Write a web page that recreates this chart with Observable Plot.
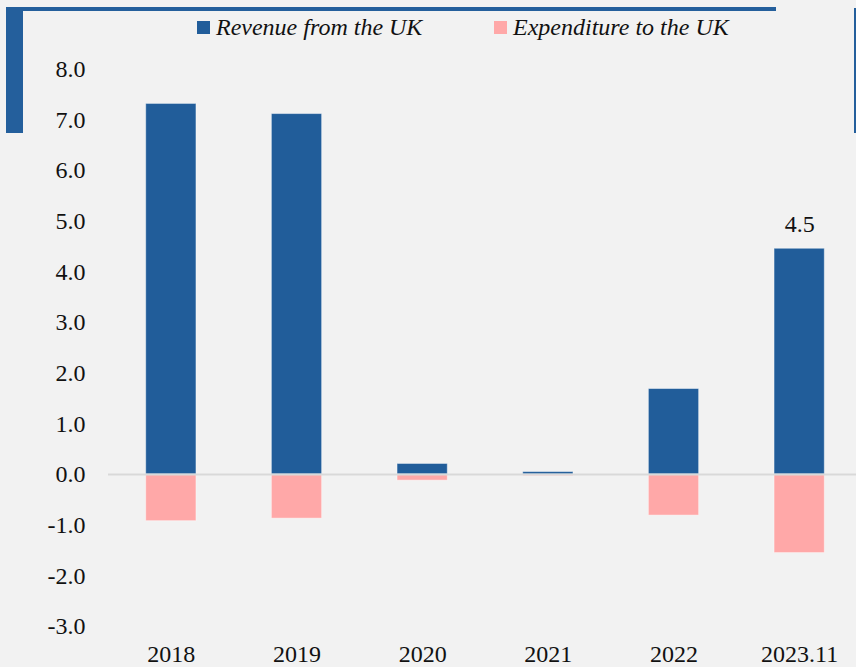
<!DOCTYPE html>
<html>
<head>
<meta charset="utf-8">
<script src="https://cdn.jsdelivr.net/npm/d3@7"></script>
<script src="https://cdn.jsdelivr.net/npm/@observablehq/plot@0.6"></script>
<style>
  html, body { margin: 0; padding: 0; background: #f2f2f2; overflow: hidden; }
  #wrap { position: relative; width: 856px; height: 667px; background: #f2f2f2; font-family: "Liberation Serif", serif; }
  .deco { position: absolute; background: #245f9c; }
  #legend { position: absolute; top: 14px; left: 0; width: 856px; height: 30px; font-style: italic; font-size: 24px; color: #111; }
  .item { position: absolute; top: 0; display: flex; align-items: center; white-space: nowrap; }
  .sw { width: 13px; height: 13px; margin-right: 6px; }
  #chart { position: absolute; left: 0; top: 0; }
  #chart svg, #chart svg text { font-family: "Liberation Serif", serif !important; }
</style>
</head>
<body>
<div id="wrap">
  <div class="deco" style="left:6px;top:7px;width:770px;height:4px;"></div>
  <div class="deco" style="left:6px;top:7px;width:17px;height:126px;"></div>
  <div class="deco" style="left:854px;top:8px;width:2px;height:125px;"></div>
  <div id="legend"></div>
  <div id="chart"></div>
</div>
<script>
const categories = ["2018", "2019", "2020", "2021", "2022", "2023.11"];
const revenue = [7.32, 7.12, 0.21, 0.05, 1.69, 4.46];
const expenditure = [-0.92, -0.87, -0.12, -0.03, -0.81, -1.55];
const seriesNames = ["Revenue from the UK", "Expenditure to the UK"];
const seriesColors = ["#215d9a", "#ffa8a8"];
const yTicks = [-3, -2, -1, 0, 1, 2, 3, 4, 5, 6, 7, 8];
const labeledCategories = ["2023.11"];

const rows = [];
categories.forEach((c, i) => {
  rows.push({cat: c, series: seriesNames[0], value: revenue[i]});
  rows.push({cat: c, series: seriesNames[1], value: expenditure[i]});
});
const labelRows = categories.map((c, i) => ({cat: c, value: revenue[i]}))
  .filter(d => labeledCategories.includes(d.cat));

// legend
const legend = document.getElementById("legend");
const legendX = [197, 494];
seriesNames.forEach((name, i) => {
  const it = document.createElement("div");
  it.className = "item";
  it.style.left = legendX[i] + "px";
  it.innerHTML = `<span class="sw" style="background:${seriesColors[i]}"></span><span>${name}</span>`;
  legend.appendChild(it);
});

const FF = "Liberation Serif";
const chart = Plot.plot({
  width: 856,
  height: 667,
  marginLeft: 108,
  marginRight: 0,
  marginTop: 69,
  marginBottom: 41,
  style: {background: "transparent", fontFamily: FF, fontSize: "24px", color: "#111"},
  x: {domain: categories, range: [108, 862], paddingInner: 0.6, paddingOuter: 0.3, align: 0.5, round: false},
  y: {domain: [-3, 8]},
  color: {domain: seriesNames, range: seriesColors},
  marks: [
    Plot.barY(rows, {x: "cat", y: "value", fill: "series", stroke: "#ffffff", strokeOpacity: 0.45, strokeWidth: 1}),
    Plot.ruleY([0], {stroke: "#d9d9d9", strokeWidth: 2}),
    Plot.axisY({ticks: yTicks, tickSize: 0, tickPadding: 23, tickFormat: d => d.toFixed(1), label: null, fontSize: 24, fontFamily: FF, fill: "#111"}),
    Plot.axisX({tickSize: 0, tickPadding: 18, label: null, fontSize: 24, fontFamily: FF, fill: "#111"}),
    Plot.text(labelRows, {x: "cat", y: "value", text: d => d.value.toFixed(1), dy: -17, lineAnchor: "bottom", fontSize: 24, fontFamily: FF, fill: "#111"})
  ]
});
document.getElementById("chart").appendChild(chart);
</script>
</body>
</html>
